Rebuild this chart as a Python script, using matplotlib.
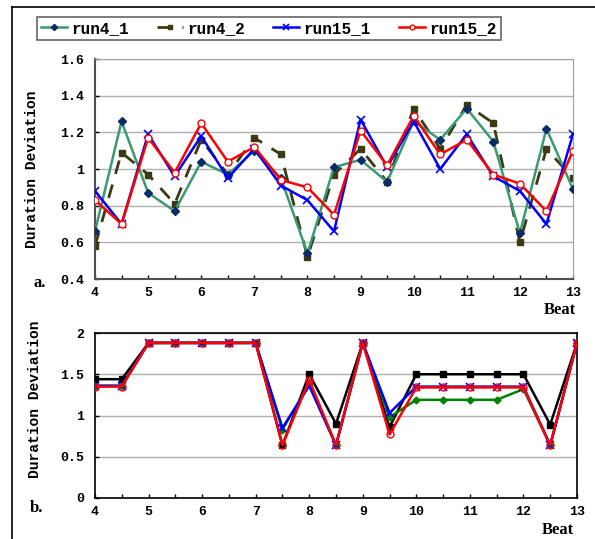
import numpy as np
import matplotlib
matplotlib.use("Agg")
import matplotlib.pyplot as plt
from matplotlib.lines import Line2D

beats = [4, 4.5, 5, 5.5, 6, 6.5, 7, 7.5, 8, 8.5, 9, 9.5, 10, 10.5, 11, 11.5, 12, 12.5, 13]
series_names = ["run4_1", "run4_2", "run15_1", "run15_2"]

# panel a. duration deviation
a_run4_1 = [0.66, 1.26, 0.87, 0.77, 1.04, 0.97, 1.10, 0.95, 0.54, 1.01,
            1.05, 0.93, 1.26, 1.16, 1.33, 1.15, 0.65, 1.22, 0.89]
a_run4_2 = [0.58, 1.09, 0.97, 0.81, 1.16, 0.97, 1.17, 1.08, 0.52, 0.97,
            1.11, 0.93, 1.33, 1.11, 1.35, 1.25, 0.60, 1.11, 0.95]
a_run15_1 = [0.88, 0.70, 1.19, 0.96, 1.18, 0.95, 1.11, 0.91, 0.83, 0.66,
             1.27, 1.01, 1.26, 1.00, 1.19, 0.96, 0.88, 0.70, 1.19]
a_run15_2 = [0.83, 0.70, 1.17, 0.98, 1.25, 1.04, 1.12, 0.94, 0.90, 0.75,
             1.21, 1.02, 1.29, 1.08, 1.16, 0.97, 0.92, 0.77, 1.10]

# panel b. duration deviation
b_run4_1 = [1.36, 1.36, 1.88, 1.88, 1.88, 1.88, 1.88, 0.83, 1.38, 0.64,
            1.88, 0.98, 1.19, 1.19, 1.19, 1.19, 1.32, 0.64, 1.88]
b_run4_2 = [1.44, 1.44, 1.88, 1.88, 1.88, 1.88, 1.88, 0.64, 1.50, 0.90,
            1.88, 0.86, 1.50, 1.50, 1.50, 1.50, 1.50, 0.89, 1.88]
b_run15_1 = [1.36, 1.36, 1.88, 1.88, 1.88, 1.88, 1.88, 0.85, 1.36, 0.64,
             1.88, 1.03, 1.35, 1.35, 1.35, 1.35, 1.35, 0.64, 1.88]
b_run15_2 = [1.35, 1.35, 1.88, 1.88, 1.88, 1.88, 1.88, 0.64, 1.43, 0.64,
             1.88, 0.77, 1.34, 1.34, 1.34, 1.34, 1.34, 0.64, 1.88]

mono = "Liberation Mono"
serif = "Liberation Serif"

fig = plt.figure(figsize=(5.95, 5.39), dpi=100)

# outer frame (left and top edges only are visible)
fig.add_artist(Line2D([12/595, 12/595], [0, 1 - 7/539], color="black", lw=1.2))
fig.add_artist(Line2D([12/595, 1], [1 - 7/539, 1 - 7/539], color="black", lw=1.2))

ax1 = fig.add_axes([95/595, 1 - 279/539, (573 - 95)/595, (279 - 59)/539])
ax2 = fig.add_axes([95/595, 1 - 498/539, (577 - 95)/595, (498 - 333)/539])

# top panel
ax1.plot(beats, a_run4_1, color="#3a9a72", lw=1.8, marker="D", ms=4.5,
         mfc="#0a2a6a", mec="#0a2a6a", label=series_names[0], zorder=3)
ax1.plot(beats, a_run4_2, color="#3b3a12", lw=2.0, ls=(0, (5, 4)), marker="s", ms=5,
         mfc="#3b3a12", mec="#3b3a12", label=series_names[1], zorder=2)
ax1.plot(beats, a_run15_1, color="#0000ff", lw=1.8, marker="x", ms=6, mew=1.2,
         label=series_names[2], zorder=4)
ax1.plot(beats, a_run15_2, color="#ff0000", lw=1.8, marker="o", ms=5, mfc="white",
         mec="#ff0000", mew=1.0, label=series_names[3], zorder=5)
ax1.set_xlim(4, 13)
ax1.set_ylim(0.4, 1.6)
ax1.set_yticks(np.arange(0.4, 1.61, 0.2))
ax1.set_yticklabels(["0.4", "0.6", "0.8", "1", "1.2", "1.4", "1.6"])
ax1.yaxis.grid(True, color="#b0b0b0", lw=1)
ax1.set_axisbelow(True)
for s in ["top", "right"]:
    ax1.spines[s].set_color("#a0a0a0")
for s in ["left", "bottom"]:
    ax1.spines[s].set_color("#505050")
    ax1.spines[s].set_linewidth(1.5)

# bottom panel
ax2.plot(beats, b_run4_1, color="#008000", lw=1.8, marker="D", ms=3.5,
         mfc="#008000", mec="#008000", zorder=3)
ax2.plot(beats, b_run4_2, color="black", lw=1.8, marker="s", ms=5, zorder=2)
ax2.plot(beats, b_run15_1, color="#0000ff", lw=1.8, marker="x", ms=6, mew=1.2, zorder=4)
ax2.plot(beats, b_run15_2, color="#ff0000", lw=1.8, marker="o", ms=5, mfc="none",
         mec="#ff0000", mew=1.0, zorder=5)
ax2.set_xlim(4, 13)
ax2.set_ylim(0, 2)
ax2.set_yticks([0, 0.5, 1, 1.5, 2])
ax2.set_yticklabels(["0", "0.5", "1", "1.5", "2"])
ax2.yaxis.grid(True, color="#b0b0b0", lw=1)
ax2.set_axisbelow(True)
for s in ax2.spines.values():
    s.set_linewidth(1.2)

for ax in (ax1, ax2):
    ax.set_xticks(np.arange(4, 13.01, 0.5))
    ax.set_xticklabels([str(int(b)) if b == int(b) else "" for b in beats])
    ax.tick_params(axis="x", direction="in", length=3, pad=6, width=1)
    ax.tick_params(axis="y", direction="in", length=3, pad=8, width=1)
    for lab in ax.get_xticklabels() + ax.get_yticklabels():
        lab.set_fontfamily(mono)
        lab.set_fontweight("bold")
        lab.set_fontsize(9.5)
    ax.set_ylabel("Duration Deviation", fontfamily=mono, fontweight="bold",
                  fontsize=10.5, labelpad=10)

ax1.yaxis.set_label_coords(-0.118, 0.5)
ax2.yaxis.set_label_coords(-0.11, 0.6)

fig.text(33/595, 1 - 283/539, "a.", fontfamily=serif, fontweight="bold",
         fontsize=12, va="center")
fig.text(30/595, 1 - 508/539, "b.", fontfamily=serif, fontweight="bold",
         fontsize=12, va="center")
fig.text(560/595, 1 - 310/539, "Beat", fontfamily=serif, fontweight="bold",
         fontsize=12, ha="center", va="center")
fig.text(558/595, 1 - 530/539, "Beat", fontfamily=serif, fontweight="bold",
         fontsize=12, ha="center", va="center")

leg = fig.legend(handles=ax1.get_lines(), labels=series_names, ncol=4,
                 loc="center", bbox_to_anchor=(269/595, 1 - 28.5/539),
                 prop={"family": mono, "weight": "bold", "size": 11.5},
                 frameon=True, fancybox=False, edgecolor="#404040",
                 handlelength=1.6, handletextpad=0.3, columnspacing=1.75,
                 borderpad=0.25, markerscale=0.7)
leg.get_frame().set_linewidth(1.2)

fig.savefig("out.png", dpi=100)
